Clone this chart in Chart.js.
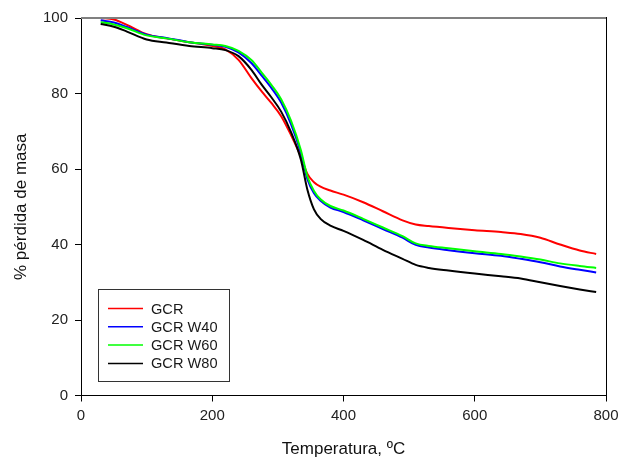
<!DOCTYPE html>
<html>
<head>
<meta charset="utf-8">
<script src="https://cdn.jsdelivr.net/npm/chart.js@4/dist/chart.umd.min.js"></script>
<style>
  html, body { margin: 0; padding: 0; background: #fff; }
  #wrap { width: 620px; height: 461px; position: relative; }
</style>
</head>
<body>
<div id="wrap"><canvas id="c" width="620" height="461"></canvas></div>
<script>
const temps = [30,50,70,100,130,165,200,220,240,260,275,290,305,320,335,345,355,365,380,400,430,460,490,510,530,560,600,640,670,700,730,760,785];
const gcr    = [100.0,99.6,98.2,95.7,94.6,93.6,92.6,91.7,88.9,84.0,80.6,77.5,74.0,69.0,63.3,58.7,56.5,55.3,54.3,53.2,51.2,48.8,46.4,45.3,44.9,44.4,43.8,43.3,42.8,41.8,40.0,38.4,37.5];
const gcrW40 = [99.4,98.8,97.6,95.6,94.7,93.6,92.9,92.4,90.9,88.0,84.8,81.5,77.6,71.9,64.3,57.3,53.6,51.6,49.8,48.6,46.4,44.1,41.8,39.9,39.2,38.5,37.7,37.0,36.2,35.3,34.2,33.3,32.6];
const gcrW60 = [98.9,98.3,97.3,95.4,94.6,93.6,93.0,92.6,91.3,88.8,85.6,82.3,78.5,72.8,65.0,58.0,54.2,52.0,50.2,49.0,46.8,44.5,42.2,40.3,39.6,39.0,38.2,37.5,36.8,36.0,35.0,34.3,33.8];
const gcrW80 = [98.4,97.7,96.4,94.3,93.5,92.6,92.0,91.5,89.9,86.2,82.4,79.0,75.2,69.8,62.5,54.5,49.3,46.8,45.0,43.6,41.2,38.6,36.2,34.6,33.8,33.1,32.3,31.6,31.0,30.0,29.0,28.1,27.4];
const seriesNames = ['GCR','GCR W40','GCR W60','GCR W80'];
const xTicks = [0,200,400,600,800];
const yTicks = [0,20,40,60,80,100];

const FONT = "'Liberation Sans', Arial, sans-serif";
const colors = ['#ff0000','#0000ff','#00ff00','#000000'];
const series = [gcr, gcrW40, gcrW60, gcrW80];

const datasets = series.map((vals, i) => ({
  label: seriesNames[i],
  data: temps.map((t, j) => ({x: t, y: vals[j]})),
  borderColor: colors[i],
  backgroundColor: colors[i],
  borderWidth: 2,
  pointRadius: 0,
  fill: false,
  cubicInterpolationMode: 'monotone',
  order: 4 - i
}));

const framePlugin = {
  id: 'frame',
  afterDatasetsDraw(chart) {
    const {ctx, chartArea: a} = chart;
    ctx.save();
    ctx.strokeStyle = '#808080';
    ctx.lineWidth = 2;
    ctx.beginPath();
    ctx.moveTo(a.left, a.top);
    ctx.lineTo(a.right, a.top);
    ctx.stroke();
    ctx.strokeStyle = '#000';
    ctx.lineWidth = 1;
    ctx.beginPath();
    ctx.moveTo(a.right + 0.5, a.top - 1);
    ctx.lineTo(a.right + 0.5, a.bottom);
    ctx.stroke();
    ctx.restore();
  }
};

const legendPlugin = {
  id: 'boxLegend',
  afterDraw(chart) {
    const ctx = chart.ctx;
    ctx.save();
    const bx = 98.5, by = 289.5, bw = 131, bh = 92;
    ctx.fillStyle = '#fff';
    ctx.fillRect(bx, by, bw, bh);
    ctx.strokeStyle = '#333';
    ctx.lineWidth = 1;
    ctx.strokeRect(bx, by, bw, bh);
    ctx.font = "14.6px " + FONT;
    ctx.textBaseline = 'middle';
    ctx.textAlign = 'left';
    chart.data.datasets.forEach((ds, i) => {
      const y = 308.5 + i * 18.3;
      ctx.strokeStyle = ds.borderColor;
      ctx.lineWidth = 1.5;
      ctx.beginPath();
      ctx.moveTo(108, y);
      ctx.lineTo(143, y);
      ctx.stroke();
      ctx.fillStyle = '#1a1a1a';
      ctx.fillText(ds.label, 151, y + 1);
    });
    ctx.restore();
  }
};

new Chart(document.getElementById('c'), {
  type: 'line',
  data: { datasets },
  plugins: [framePlugin, legendPlugin],
  options: {
    responsive: false,
    animation: false,
    devicePixelRatio: 1,
    layout: { padding: { left: 0, right: 14, top: 18, bottom: 0 } },
    plugins: { legend: { display: false }, tooltip: { enabled: false } },
    scales: {
      x: {
        type: 'linear',
        min: 0, max: 800,
        afterBuildTicks(scale) { scale.ticks = xTicks.map(v => ({value: v})); },
        afterFit(scale) { scale.height = 65.5; scale.paddingRight = 0; scale.paddingLeft = 0; },
        grid: { display: true, drawOnChartArea: false, drawTicks: true, tickLength: 6, color: '#000', lineWidth: 1 },
        border: { display: true, color: '#000', width: 1 },
        ticks: { font: { family: FONT, size: 15 }, color: '#222', padding: 5, maxRotation: 0 },
        title: { display: true, text: 'Temperatura, ºC', font: { family: FONT, size: 17 }, color: '#111', padding: { top: 0, bottom: 1 } }
      },
      y: {
        type: 'linear',
        min: 0, max: 100,
        afterBuildTicks(scale) { scale.ticks = yTicks.map(v => ({value: v})); },
        afterFit(scale) { scale.width = 81; scale.paddingTop = 0; scale.paddingBottom = 0; },
        grid: { display: true, drawOnChartArea: false, drawTicks: true, tickLength: 6, color: '#000', lineWidth: 1 },
        border: { display: true, color: '#000', width: 1 },
        ticks: { font: { family: FONT, size: 15 }, color: '#222', padding: 7 },
        title: { display: true, text: '% pérdida de masa', font: { family: FONT, size: 17 }, color: '#111', padding: { top: 11, bottom: 0 } }
      }
    }
  }
});
</script>
</body>
</html>
